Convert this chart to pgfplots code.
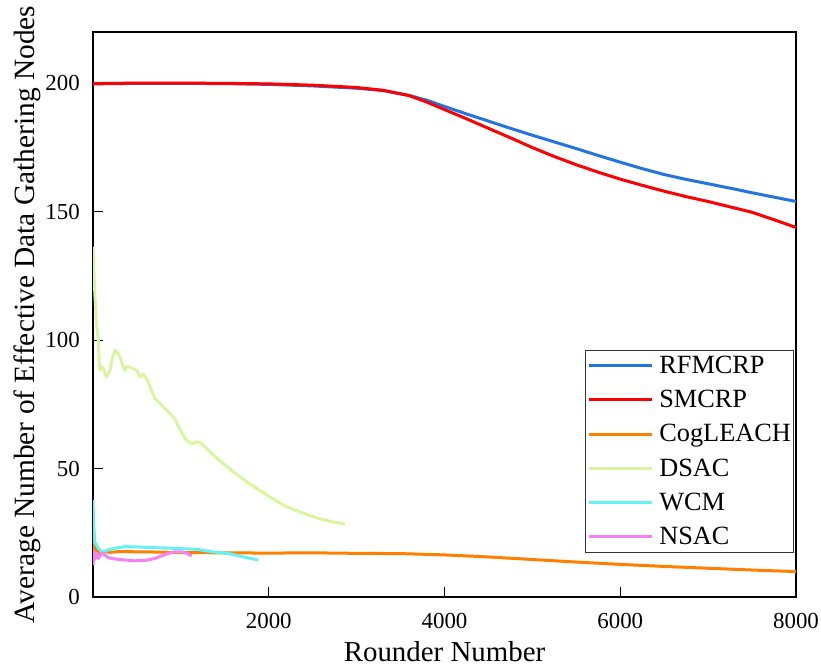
\documentclass[border=0pt]{standalone}
\usepackage{pgfplots}
\pgfplotsset{compat=1.18}
\usepackage{fontspec}
\setmainfont{Liberation Serif}
\usetikzlibrary{calc}
\definecolor{cblue}{RGB}{34,116,224}
\definecolor{cred}{RGB}{255,0,0}
\definecolor{corange}{RGB}{255,128,0}
\definecolor{cgreen}{RGB}{218,245,160}
\definecolor{ccyan}{RGB}{100,242,242}
\definecolor{cpink}{RGB}{245,130,240}
\begin{document}
\begin{tikzpicture}
\begin{axis}[
  scale only axis, width=703bp, height=565bp,
  xmin=0, xmax=8000, ymin=0, ymax=220,
  xtick={2000,4000,6000,8000}, xticklabels={2000,4000,6000,8000},
  ytick={0,50,100,150,200}, yticklabels={0,50,100,150,200},
  tick align=inside, xtick pos=left, ytick pos=left,
  major tick length=10bp,
  every tick/.style={black, line width=1.3bp},
  axis line style={line width=1.3bp},
  /pgf/number format/assume math mode=true,
  xticklabel style={font=\fontsize{23}{27}\selectfont, anchor=base, inner sep=0pt, yshift=-31bp},
  yticklabel style={font=\fontsize{23}{27}\selectfont, anchor=east, inner sep=0pt, xshift=-13bp},
  xlabel={Rounder Number},
  ylabel={Average Number of Effective Data Gathering Nodes},
  xlabel style={font=\fontsize{29}{34}\selectfont, inner sep=0pt, at={(axis description cs:0.5,-0.1145)}, anchor=base},
  ylabel style={font=\fontsize{29.5}{34}\selectfont, inner sep=0pt, at={(axis description cs:-0.0825,0.5)}, anchor=base},
  legend style={at={(rel axis cs:0.9975,0.438)}, anchor=north east, draw=black!80, line width=0.8bp,
    font=\fontsize{26.4}{30}\selectfont, row sep=13.4bp, column sep=5bp, inner xsep=2bp, inner ysep=5bp,
    nodes={inner sep=1bp}, cells={anchor=west}},
  legend image code/.code={\draw[#1] (0bp,0bp) -- (63bp,0bp);},
  every axis plot/.append style={line width=3bp, line join=round},
]
\addplot[cblue] coordinates {
(0,199.8) (500,200) (1000,200) (1500,199.9) (2000,199.6) (2500,199.0) (3000,198.1)
(3300,197.2) (3600,195.3) (3800,193.4) (4000,191.0) (4250,188.1) (4500,185.3)
(4750,182.5) (5000,179.8) (5250,177.2) (5500,174.6) (5750,171.9) (6000,169.3)
(6250,166.8) (6500,164.5) (6750,162.6) (7000,160.9) (7250,159.2) (7500,157.4)
(7750,155.7) (8000,154.0)
};
\addlegendentry{RFMCRP}
\addplot[cred] coordinates {
(0,199.9) (500,200.1) (1000,200.1) (1500,200.0) (2000,199.8) (2500,199.3) (3000,198.4)
(3300,197.3) (3600,195.2) (3800,192.7) (4000,189.8) (4250,186.2) (4500,182.5)
(4750,178.8) (5000,175.0) (5250,171.5) (5500,168.3) (5750,165.4) (6000,162.7)
(6250,160.3) (6500,158.0) (6750,155.9) (7000,154.0) (7250,151.9) (7500,149.8)
(7750,146.9) (8000,143.9)
};
\addlegendentry{SMCRP}
\addplot[corange] coordinates {
(0,22) (10,18.5) (20,20.5) (35,17.8) (50,19.0) (70,17.3) (100,17.0) (150,17.6)
(200,17.4) (300,17.7) (500,17.6) (750,17.5) (1000,17.3) (1500,17.2) (2000,17.1)
(2500,17.2) (3000,17.0) (3500,16.9) (4000,16.4) (4500,15.6) (5000,14.6) (5500,13.6)
(6000,12.7) (6500,11.9) (7000,11.2) (7500,10.5) (8000,9.9)
};
\addlegendentry{CogLEACH}
\addplot[cgreen] coordinates {
(0,136.3) (12,125) (23,116.8) (40,106) (60,100) (70,92) (80,88.3) (100,89.6) (117,89)
(135,87) (156,85.7) (175,87) (193,88.3) (220,93) (250,96.1) (280,95) (307,93.5)
(340,90) (364,88.3) (385,89.7) (402,89.6) (450,89) (497,88.3) (535,85.7) (572,86.8)
(629,83.8) (665,80.5) (705,77.3) (760,75.5) (819,73.4) (914,70.2) (980,66) (1047,61.7)
(1123,59.5) (1170,60.4) (1217,60.2) (1280,58.3) (1350,55.9) (1502,51.4) (1650,47.3)
(1805,43.6) (2000,39.2) (2184,35.4) (2380,32.8) (2564,30.6) (2720,29.3) (2867,28.4)
};
\addlegendentry{DSAC}
\addplot[ccyan] coordinates {
(0,37.7) (8,28) (15,24) (23,20.9) (40,20.3) (60,19.0) (90,17.9) (117,17.6) (160,18.2)
(250,19.0) (364,19.6) (500,19.5) (700,19.2) (971,18.9) (1200,18.5) (1350,17.6)
(1500,17.1) (1578,16.7) (1700,15.7) (1881,14.4)
};
\addlegendentry{WCM}
\addplot[cpink] coordinates {
(0,12.5) (6,18) (12,14) (20,17.5) (30,15) (45,16.8) (60,15.0) (85,16.5) (110,17.0)
(136,16.3) (170,15.4) (212,15.0) (300,14.6) (400,14.3) (478,14.1) (600,14.3)
(705,15.0) (780,16.0) (857,17.0) (930,17.6) (1009,17.6) (1070,17.0) (1123,16.0)
};
\addlegendentry{NSAC}
\coordinate (ll) at (rel axis cs:0,0);
\coordinate (ur) at (rel axis cs:1,1);
\end{axis}
\pgfresetboundingbox
\path[use as bounding box] ($(ll)+(-93bp,-71bp)$) rectangle ($(ur)+(25bp,32bp)$);
\end{tikzpicture}
\end{document}
